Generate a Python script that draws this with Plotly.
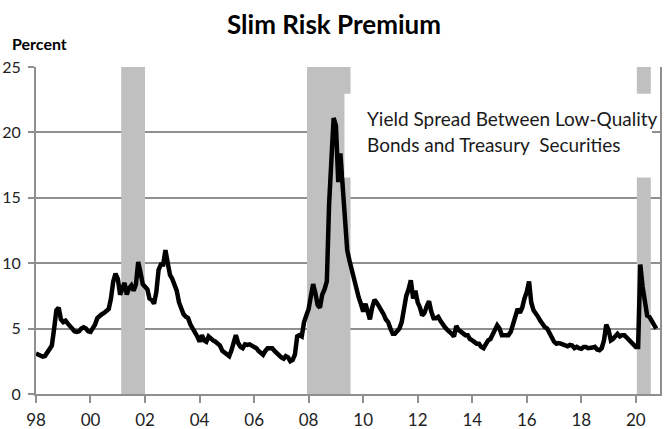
import pandas as pd
import plotly.graph_objects as go

# Monthly yield spread (percent), Jan 1998 .. Oct 2020
spread_by_year = {
    1998: [3.1, 3.0, 2.9, 2.85, 2.9, 3.2, 3.5, 3.7, 5.0, 6.4, 6.6, 5.7],
    1999: [5.5, 5.6, 5.4, 5.2, 5.0, 4.8, 4.75, 4.8, 5.0, 5.1, 5.0, 4.8],
    2000: [4.75, 5.0, 5.3, 5.8, 6.0, 6.1, 6.2, 6.4, 6.5, 7.3, 8.6, 9.2],
    2001: [8.8, 7.6, 8.0, 8.5, 7.6, 8.1, 8.3, 7.9, 8.4, 10.1, 9.3, 8.4],
    2002: [8.2, 8.0, 7.3, 7.2, 6.9, 7.8, 9.5, 9.9, 9.9, 11.0, 10.0, 9.1],
    2003: [8.8, 8.3, 7.9, 7.0, 6.5, 6.1, 5.9, 5.8, 5.3, 5.0, 4.8, 4.4],
    2004: [4.0, 4.5, 4.1, 4.0, 4.4, 4.2, 4.1, 4.0, 3.8, 3.7, 3.3, 3.2],
    2005: [3.1, 2.9, 3.3, 3.8, 4.5, 3.9, 3.6, 3.5, 3.8, 3.75, 3.8, 3.7],
    2006: [3.6, 3.5, 3.3, 3.1, 3.0, 3.3, 3.5, 3.5, 3.5, 3.3, 3.1, 3.0],
    2007: [2.8, 2.7, 2.9, 2.8, 2.5, 2.6, 3.0, 4.4, 4.5, 4.4, 5.5, 6.0],
    2008: [6.5, 7.5, 8.4, 7.7, 6.8, 6.6, 7.6, 8.0, 8.6, 14.5, 18.0, 21.1],
    2009: [20.5, 16.2, 18.4, 16.0, 12.8, 11.0, 10.2, 9.5, 8.5, 8.0, 7.4, 6.9],
    2010: [6.3, 6.9, 6.4, 5.7, 6.6, 7.2, 7.0, 6.7, 6.5, 6.1, 5.7, 5.5],
    2011: [5.0, 4.6, 4.6, 4.75, 5.0, 5.5, 6.5, 7.5, 8.0, 8.7, 7.3, 7.9],
    2012: [7.0, 6.6, 6.0, 6.2, 6.7, 7.1, 6.3, 5.8, 5.8, 5.9, 5.6, 5.3],
    2013: [5.1, 4.9, 4.8, 4.6, 4.4, 5.2, 4.9, 4.75, 4.6, 4.5, 4.5, 4.2],
    2014: [4.1, 4.0, 3.85, 3.85, 3.6, 3.5, 3.8, 4.1, 4.2, 4.5, 4.9, 5.25],
    2015: [5.0, 4.5, 4.5, 4.5, 4.5, 4.75, 5.3, 5.8, 6.5, 6.2, 6.6, 7.3],
    2016: [7.8, 8.6, 7.0, 6.4, 6.2, 5.9, 5.6, 5.3, 5.1, 5.0, 4.6, 4.25],
    2017: [4.0, 3.85, 3.9, 3.85, 3.8, 3.7, 3.65, 3.75, 3.7, 3.5, 3.6, 3.5],
    2018: [3.45, 3.6, 3.6, 3.5, 3.5, 3.55, 3.6, 3.4, 3.35, 3.5, 4.1, 5.3],
    2019: [4.9, 4.1, 4.2, 4.4, 4.6, 4.4, 4.5, 4.5, 4.3, 4.2, 4.0, 3.8],
    2020: [3.6, 3.6, 9.9, 8.2, 7.0, 6.0, 5.9, 5.6, 5.4, 5.0],
}

recession_start = ["2001-02-15", "2007-12-10", "2020-01-15"]
recession_end = ["2001-12-31", "2009-07-15", "2020-07-20"]

tick_years = list(range(1998, 2021, 2))
tick_labels = ["98", "00", "02", "04", "06", "08", "10", "12", "14", "16", "18", "20"]
y_ticks = [0, 5, 10, 15, 20, 25]

title_text = "Slim Risk Premium"
unit_text = "Percent"
note_lines = ["Yield Spread Between Low-Quality", "Bonds and Treasury\u00a0 Securities"]

# build series
values = []
for yr in sorted(spread_by_year):
    values.extend(spread_by_year[yr])
dates = pd.date_range("1998-01-01", periods=len(values), freq="MS")

GRID = "#8f8f8f"
SHADE = "#c0c0c0"
FONT = "Lato"
W, H = 671, 429
ML, MR, MT, MB = 36, 11, 67, 35
PW, PH = W - ML - MR, H - MT - MB

fig = go.Figure()
fig.add_trace(go.Scatter(
    x=dates, y=values, mode="lines",
    line=dict(color="black", width=4.5),
    hoverinfo="skip", showlegend=False,
))

for s, e in zip(recession_start, recession_end):
    fig.add_shape(type="rect", xref="x", yref="y", x0=s, x1=e, y0=0, y1=25,
                  fillcolor=SHADE, line=dict(width=0), layer="between")

# white box behind the note
fig.add_shape(type="rect", xref="x", yref="y", x0="2009-04-25", x1="2020-08-05",
              y0=16.55, y1=22.95, fillcolor="white", line=dict(width=0), layer="above")

for txt, yv in zip(note_lines, [21.07, 19.08]):
    fig.add_annotation(x="2010-01-26", y=yv, xref="x", yref="y", text=txt,
                       showarrow=False, xanchor="left", yanchor="middle",
                       font=dict(family=FONT, size=19, color="#1a1a1a"))

fig.add_annotation(x=(10 - ML) / PW, y=1 + (MT - 43) / PH, xref="paper", yref="paper",
                   text=f"<b>{unit_text}</b>",
                   showarrow=False, xanchor="left", yanchor="middle",
                   font=dict(family=FONT, size=16, color="black"))

fig.update_layout(
    width=W, height=H,
    margin=dict(l=ML, r=MR, t=MT, b=MB, autoexpand=False),
    paper_bgcolor="white", plot_bgcolor="white",
    title=dict(text=f"<b>{title_text}</b>", x=334 / W, xanchor="center",
               y=1 - 25 / H, yanchor="middle",
               font=dict(family=FONT, size=26, color="black")),
    font=dict(family=FONT, size=17, color="#222222"),
    xaxis=dict(
        type="date",
        range=["1998-01-01", "2020-11-20"],
        tickvals=[f"{y}-01-01" for y in tick_years],
        ticktext=tick_labels,
        showgrid=False, zeroline=False,
        showline=True, linecolor=GRID, linewidth=2,
        ticks="outside", ticklen=7, tickwidth=2, tickcolor=GRID,
        tickfont=dict(family=FONT, size=17, color="#222222"),
        ticklabelstandoff=3,
        automargin=False,
    ),
    yaxis=dict(
        range=[0, 25],
        tickvals=y_ticks,
        showgrid=True, gridcolor=GRID, gridwidth=2,
        zeroline=False,
        showline=True, linecolor=GRID, linewidth=2, mirror=True,
        ticks="outside", ticklen=6, tickwidth=2, tickcolor=GRID,
        tickfont=dict(family=FONT, size=16, color="#222222"),
        ticklabelstandoff=4,
        automargin=False,
    ),
)

fig.write_html("out.html",
               config={"displayModeBar": False},
               post_script="document.body.style.margin='0';document.body.style.overflow='hidden';")
